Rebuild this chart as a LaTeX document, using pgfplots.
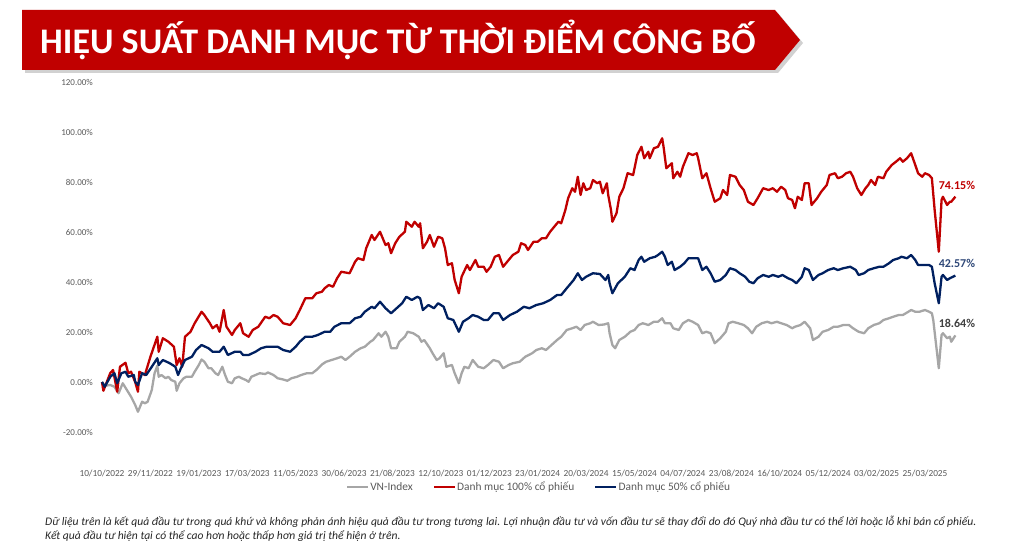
\documentclass[border=0pt]{standalone}
\usepackage{fontspec}
\setmainfont{Carlito}
\usepackage{pgfplots}
\usepackage{pgfplotstable}
\pgfplotsset{compat=1.18}
\definecolor{cred}{RGB}{192,0,0}
\definecolor{cnavy}{RGB}{0,32,96}
\definecolor{cgray}{RGB}{166,166,166}
\definecolor{ctext}{RGB}{89,89,89}
\definecolor{cnavylab}{RGB}{47,72,120}
\definecolor{cgraylab}{RGB}{64,64,64}

\pgfplotstableread{
x y
0 0
1 -3.5
6 3.6
8 4.8
11 -3.9
13 6.1
17 7.7
19 3.5
21 4.1
24 0
26 -3.9
27 4.1
31 2.8
35 10.1
40 18.1
41 12.1
44 17.5
48 16.1
52 14.1
54 6.8
56 9.5
58 6.1
60 18.1
64 20.1
67 23.5
72 28.1
74 26.8
78 23.5
80 21.5
83 22.8
85 20.1
88 28.8
90 22.1
94 18.8
96 20.8
100 23.5
102 19.5
106 18.1
109 20.8
113 22.1
118 26.1
121 25.5
124 26.8
127 26.1
131 23.5
136 22.8
140 25.5
143 28.8
147 33.5
152 33.5
155 35.5
159 36.1
161 37.5
164 38.8
167 38.1
170 41.5
173 44.1
179 43.5
183 48.1
185 49.5
189 48.8
191 53.5
195 58.8
197 56.8
201 60.1
205 54.8
207 55.5
209 51.5
212 55.5
215 58.1
219 60.1
220 64.1
224 62.1
226 64.1
229 62.1
230 63.5
232 53.5
235 56.1
237 58.8
240 54.1
243 58.1
246 57.5
248 53.5
250 46.8
253 47.5
255 40.8
258 35.5
260 42.1
264 46.8
266 44.8
270 48.8
272 46.1
276 46.1
278 44.1
281 46.1
284 50.1
287 50.8
290 46.1
294 48.8
297 50.8
301 52.1
303 55.5
306 54.8
308 52.8
312 56.1
315 56.1
318 57.5
321 57.5
324 60.1
328 62.8
330 64.1
332 63.5
335 68.8
337 73.5
340 77.5
342 76.1
344 82.1
346 74.8
348 79.5
350 76.8
353 77.5
355 80.8
358 79.5
360 80.1
362 75.5
365 79.5
366 74.8
368 68.8
369 64.1
372 67.5
374 74.1
377 77.5
380 83.5
384 82.8
387 90.8
390 94.1
392 89.5
395 92.1
396 89.5
399 93.5
402 94.1
405 97.5
406 94.1
408 85.5
412 87.5
413 81.5
416 84.1
418 82.1
420 86.1
424 91.5
427 90.8
430 91.5
431 89.5
434 81.5
437 83.5
440 77.5
443 72.1
447 73.5
449 76.8
452 74.8
454 82.8
458 82.1
461 78.8
464 76.8
467 72.1
471 70.8
474 73.5
478 77.5
482 76.8
485 77.5
488 76.1
491 78.1
494 76.8
496 73.5
499 72.8
501 69.5
503 74.1
506 72.8
508 79.5
511 79.5
513 70.8
517 73.5
520 76.1
524 78.8
526 82.8
530 83.5
532 81.5
535 82.1
538 83.5
541 84.1
543 82.1
546 77.5
549 74.8
552 77.5
554 78.8
556 80.8
559 78.8
561 82.1
565 81.5
567 84.1
571 86.8
574 88.1
577 89.5
579 88.1
582 89.5
585 91.5
588 86.8
590 83.5
593 82.1
595 83.5
598 82.8
600 81.5
602 68.8
605 52.1
607 72.8
608 74.1
611 70.8
613 72.1
614 72.1
617 74.15
}\tblred

\pgfplotstableread{
x y
0 0
2 -1.9
6 2.1
9 3.5
11 -0.5
14 3.5
17 4.1
19 2.1
23 2.8
24 0.1
26 -1.2
29 3.5
32 2.8
36 6.1
40 9.5
41 6.8
44 8.8
49 7.5
53 6.1
55 2.8
57 5.5
60 8.8
65 10.1
68 12.8
72 14.8
77 13.5
80 12.1
85 12.1
88 14.1
91 10.8
96 12.1
100 12.1
102 10.8
106 10.8
111 12.1
115 13.5
119 14.1
124 14.1
127 14.1
131 12.8
136 12.1
140 14.1
143 16.1
147 18.1
152 18.1
156 18.8
161 20.1
165 20.1
168 22.1
173 23.5
179 23.5
183 25.5
187 26.1
190 28.1
195 30.1
197 29.5
201 32.1
205 29.5
209 27.5
213 29.5
217 31.5
220 34.1
224 32.8
228 34.1
230 33.5
232 28.8
236 30.8
240 29.5
243 31.5
247 30.1
250 25.5
254 24.8
258 20.1
261 24.1
265 25.5
268 26.8
272 26.1
276 24.8
279 24.8
283 27.5
287 27.5
290 24.8
295 26.8
300 28.1
305 30.1
309 29.5
314 30.8
319 31.5
324 32.8
329 34.8
332 34.8
336 37.5
341 40.8
344 43.5
347 40.8
350 42.1
355 43.5
360 43.2
364 40.8
366 42.8
367 39.5
369 35.5
373 39.5
378 42.1
382 45.5
385 44.8
388 48.8
390 50.1
392 48.1
396 49.5
400 50.1
402 50.8
405 52.1
407 50.1
409 46.8
412 48.1
414 44.8
418 46.1
421 47.5
424 49.5
427 49.5
431 49.5
434 44.8
437 46.1
440 43.5
443 40.1
447 40.8
451 42.8
454 45.5
458 44.8
461 43.5
465 42.1
468 40.1
471 39.5
474 41.5
478 42.8
482 42.1
485 42.8
489 42.1
492 42.8
496 41.5
499 40.8
502 39.5
506 42.1
508 45.5
511 44.8
514 40.8
518 42.8
521 43.5
525 44.8
529 45.5
532 44.8
536 45.5
541 46.1
545 44.8
547 42.8
551 43.5
554 44.8
558 45.5
562 46.1
565 46.1
569 47.5
572 48.8
576 49.5
578 50.1
582 49.5
585 50.8
588 48.8
590 46.8
594 46.8
598 46.8
600 46.1
602 39.5
605 31.5
607 42.1
608 42.8
611 40.8
613 41.5
617 42.57
}\tblnavy

\pgfplotstableread{
x y
0 0
2 -1.5
6 -1.2
9 -1.9
12 -4.5
15 -0.5
18 -3.2
21 -5.9
24 -9.2
26 -11.9
29 -7.9
31 -8.5
33 -7.9
36 -3.2
38 3.5
40 6.5
41 2.1
43 2.8
46 1.5
48 2.1
50 0.8
53 0.1
54 -3.5
56 -0.5
59 1.5
61 2.1
65 2.1
67 4.1
70 6.8
72 9.0
74 8.1
77 5.5
79 5.5
82 3.5
84 2.8
87 6.1
89 2.8
91 0.1
94 -0.5
96 1.5
99 2.1
101 1.5
104 0.8
106 0.1
108 2.1
111 2.8
114 3.5
118 3.2
120 3.8
124 2.8
127 1.5
131 1.0
134 0.5
137 1.5
141 2.1
144 2.8
148 3.5
152 3.5
155 4.8
159 7.0
162 8.1
166 8.8
170 9.5
173 10.1
176 8.8
179 10.1
183 12.1
187 13.5
190 14.1
194 16.1
196 16.8
200 19.5
202 18.1
205 20.1
207 18.1
209 13.5
213 13.5
215 16.1
219 18.1
221 20.1
225 19.5
229 18.1
231 16.1
233 16.8
237 13.5
239 11.5
242 8.8
244 9.5
247 11.5
249 6.1
253 6.8
255 3.5
258 -0.5
260 3.5
262 6.1
265 5.5
268 8.8
272 6.1
276 5.5
279 6.8
283 8.8
287 8.1
290 5.5
294 6.8
297 7.5
302 8.1
306 10.1
311 11.5
314 12.8
318 13.5
321 12.8
325 14.8
329 16.8
332 18.1
336 20.8
340 21.5
343 22.1
346 20.8
349 22.8
353 23.5
355 24.1
359 22.8
363 23.0
366 23.5
367 19.5
369 14.8
371 13.5
374 16.8
378 18.1
382 20.1
385 20.8
388 22.8
391 23.5
395 22.8
399 24.1
402 24.1
405 25.5
407 23.5
411 23.5
413 21.5
417 20.8
420 23.5
424 24.8
427 24.1
431 22.8
434 19.5
437 20.1
440 19.5
443 15.5
447 17.5
451 20.1
453 23.5
456 24.1
460 23.5
464 22.8
467 21.5
470 19.5
473 22.1
477 23.5
481 24.1
484 23.5
488 24.1
491 23.5
495 22.8
499 21.5
501 22.1
505 22.8
508 24.1
512 21.5
514 16.8
518 18.1
521 20.1
525 20.8
529 22.1
532 22.1
536 22.8
540 22.8
543 21.5
547 20.1
551 19.5
554 21.5
558 22.8
562 23.5
565 24.8
569 25.5
572 26.1
576 26.8
579 26.8
583 28.1
585 28.8
588 28.1
591 28.1
595 28.8
598 28.1
600 27.5
601 24.8
605 5.5
607 18.8
608 19.5
611 17.5
613 18.1
614 16.1
617 18.64
}\tblgray

\begin{document}
\begin{tikzpicture}[x=1pt,y=1pt]
\useasboundingbox (0,0) rectangle (1024,549);
% title banner
\fill[black,opacity=0.18] (25,476)--(778,476)--(803,506)--(778,536)--(25,536)--cycle;
\fill[cred] (22,479)--(775,479)--(800,509)--(775,539)--(22,539)--cycle;
\node[anchor=base west, inner sep=0pt, text=white, font=\fontsize{36}{36}\selectfont\bfseries] at (40,495.5) {HIỆU SUẤT DANH MỤC TỪ THỜI ĐIỂM CÔNG BỐ};

\begin{axis}[
  at={(97.85pt,117pt)}, anchor=south west,
  scale only axis, width=868.6pt, height=350pt,
  xmin=-3, xmax=625, ymin=-20, ymax=120,
  axis line style={draw=none}, major tick length=0pt,
  clip=false,
  /pgf/number format/assume math mode=true,
  ytick={-20,0,20,40,60,80,100,120},
  yticklabel={\pgfmathprintnumber[fixed,fixed zerofill,precision=2]{\tick}\%},
  yticklabel style={font=\fontsize{9}{9}\selectfont, text=ctext, anchor=east, inner sep=0pt, xshift=-4.8pt},
  xtick={0,35,...,595},
  xticklabels={10/10/2022,29/11/2022,19/01/2023,17/03/2023,11/05/2023,30/06/2023,21/08/2023,12/10/2023,01/12/2023,23/01/2024,20/03/2024,15/05/2024,04/07/2024,23/08/2024,16/10/2024,05/12/2024,03/02/2025,25/03/2025},
  xticklabel style={font=\fontsize{9.3}{9.3}\selectfont, text=ctext, anchor=center, inner sep=0pt, yshift=-41pt},
  legend style={at={(0.5073,-0.1571)}, anchor=center, draw=none, fill=none,
    font=\fontsize{11.4}{11.4}\selectfont, text=ctext, inner sep=0pt,
    nodes={inner xsep=1pt, inner ysep=1pt},
    /tikz/every even column/.append style={column sep=19pt}},
  legend columns=3,
  legend image code/.code={\draw[#1] (0pt,0pt) -- (21pt,0pt);},
]
\addplot[cgray, line width=2.3pt, line join=round] table[x=x,y=y]{\tblgray}
  node[pos=1, anchor=center, yshift=12pt, xshift=1.5pt, text=cgraylab, font=\fontsize{12}{12}\selectfont\bfseries] {18.64\%};
\addlegendentry{VN-Index}
\addplot[cred, line width=2.3pt, line join=round] table[x=x,y=y]{\tblred}
  node[pos=1, anchor=center, yshift=11.6pt, xshift=1.5pt, text=cred, font=\fontsize{12}{12}\selectfont\bfseries] {74.15\%};
\addlegendentry{Danh mục 100\% cổ phiếu}
\addplot[cnavy, line width=2.3pt, line join=round] table[x=x,y=y]{\tblnavy}
  node[pos=1, anchor=center, yshift=12.6pt, xshift=1.5pt, text=cnavylab, font=\fontsize{12}{12}\selectfont\bfseries] {42.57\%};
\addlegendentry{Danh mục 50\% cổ phiếu}
\end{axis}

\node[anchor=west, inner sep=0pt, font=\fontsize{11.6}{11.6}\selectfont\itshape, text=black!85] at (45,27.3) {Dữ liệu trên là kết quả đầu tư trong quá khứ và không phản ánh hiệu quả đầu tư trong tương lai. Lợi nhuận đầu tư và vốn đầu tư sẽ thay đổi do đó Quý nhà đầu tư có thể lời hoặc lỗ khi bán cổ phiếu.};
\node[anchor=west, inner sep=0pt, font=\fontsize{11.6}{11.6}\selectfont\itshape, text=black!85] at (45,12.5) {Kết quả đầu tư hiện tại có thể cao hơn hoặc thấp hơn giá trị thể hiện ở trên.};
\end{tikzpicture}
\end{document}
